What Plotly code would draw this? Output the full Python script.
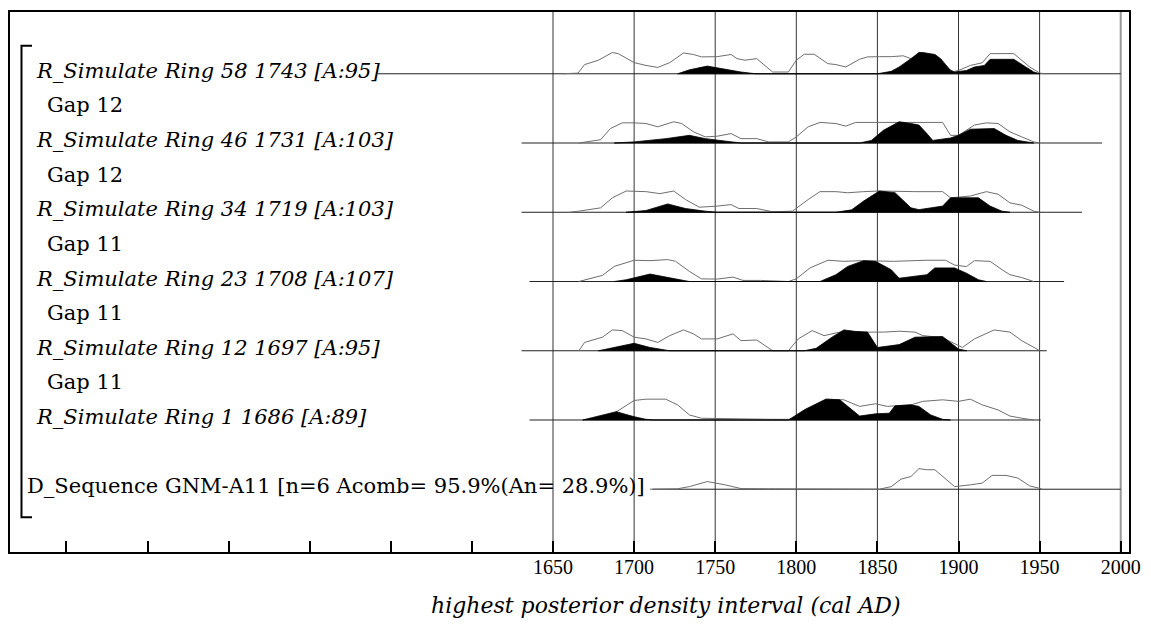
import plotly.graph_objects as go

# ---------------- data (years AD, relative probability 0..1) ----------------
row_labels = [
    "R_Simulate Ring 58 1743 [A:95]",
    "R_Simulate Ring 46 1731 [A:103]",
    "R_Simulate Ring 34 1719 [A:103]",
    "R_Simulate Ring 23 1708 [A:107]",
    "R_Simulate Ring 12 1697 [A:95]",
    "R_Simulate Ring 1 1686 [A:89]",
]
gap_labels = ["Gap 12", "Gap 12", "Gap 11", "Gap 11", "Gap 11"]
sequence_label = "D_Sequence GNM-A11 [n=6 Acomb= 95.9%(An= 28.9%)]"
axis_title = "highest posterior density interval (cal AD)"

tick_years = [1350, 1400, 1450, 1500, 1550, 1600, 1650, 1700, 1750, 1800, 1850, 1900, 1950, 2000]
tick_text = ["", "", "", "", "", "", "1650", "1700", "1750", "1800", "1850", "1900", "1950", "2000"]
grid_years = [1650, 1700, 1750, 1800, 1850, 1900, 1950, 2000]

# baseline extents per row (start year, end year); last is D_Sequence
baseline_start = [1542, 1630.6, 1630.6, 1635.5, 1630.6, 1635.5, 1711.3]
baseline_end = [2000, 1988.5, 1976.2, 1965.1, 1954.4, 1950.7, 2000]

# Ring 58
ring58_prior_yr = [1656, 1665.4, 1669.5, 1678, 1686.6, 1690.2, 1700, 1707.3, 1714.6, 1722, 1730.5, 1736.6, 1741.5,
                   1751.2, 1759.8, 1763.4, 1768.3, 1775.6, 1785.4, 1795.1, 1800, 1804.9, 1811, 1819.5, 1824.4, 1830.5,
                   1839, 1843.9, 1851.2, 1858.5, 1865.9, 1870.7, 1876, 1886, 1892, 1897, 1900, 1907.3, 1914.6, 1919.5,
                   1922, 1934.1, 1943.9, 1950.2, 1953.7]
ring58_prior_h = [0, 0.03, 0.42, 0.62, 0.97, 0.92, 0.51, 0.38, 0.29, 0.51, 0.95, 0.88, 0.77, 0.78, 0.88, 0.69, 0.62,
                  0.69, 0.08, 0.08, 0.62, 0.89, 0.89, 0.46, 0.42, 0.31, 0.66, 0.77, 0.78, 0.78, 0.82, 0.69, 0.9, 0.85,
                  0.3, 0.1, 0.15, 0.38, 0.5, 0.92, 0.92, 0.92, 0.31, 0.03, 0]
ring58_post_yr = [1726.8, 1734.1, 1745.1, 1756.1, 1765.9, 1775, 1850, 1858.5, 1863.4, 1870.7, 1875.6, 1878, 1885.4,
                  1889, 1895.1, 1897.6, 1904.9, 1909.8, 1915.9, 1919.5, 1934.1, 1941.5, 1946.4, 1950.2]
ring58_post_h = [0, 0.18, 0.35, 0.2, 0.08, 0, 0, 0.11, 0.31, 0.69, 0.97, 0.97, 0.88, 0.69, 0.15, 0.08, 0.15, 0.31,
                 0.38, 0.66, 0.66, 0.31, 0.08, 0]

# Ring 46
ring46_prior_yr = [1665.9, 1679.3, 1685.4, 1692.7, 1700, 1707.3, 1714.6, 1724.4, 1729.3, 1736.6, 1743.9, 1751.2,
                   1759.8, 1765.9, 1775.6, 1782.9, 1795.1, 1800, 1807.3, 1814.6, 1824.4, 1830.5, 1836.6, 1848.8, 1870,
                   1890.2, 1895.1, 1900, 1909.8, 1917.2, 1924.4, 1931.7, 1939, 1946.4, 1950.2]
ring46_prior_h = [0, 0.15, 0.66, 0.92, 0.92, 0.89, 0.74, 0.97, 0.89, 0.51, 0.28, 0.31, 0.43, 0.2, 0.2, 0.05, 0.05,
                  0.28, 0.74, 0.94, 0.89, 0.77, 0.94, 0.94, 0.94, 0.94, 0.35, 0.35, 0.82, 0.92, 0.89, 0.51, 0.28,
                  0.05, 0]
ring46_post_yr = [1687.8, 1700, 1719.5, 1734.1, 1743.9, 1756, 1765.9, 1839, 1846.3, 1853.7, 1863.4, 1870.7, 1875.6,
                  1880.5, 1884.1, 1895.1, 1900, 1907.3, 1922, 1929.3, 1936.6, 1946.4]
ring46_post_h = [0, 0.05, 0.2, 0.35, 0.2, 0.08, 0, 0, 0.12, 0.58, 0.97, 0.89, 0.82, 0.43, 0.12, 0.23, 0.35, 0.63,
                 0.66, 0.35, 0.12, 0]

# Ring 34
ring34_prior_yr = [1660, 1665.9, 1679.3, 1686.6, 1695.1, 1707.3, 1715.9, 1724.4, 1731.7, 1740.2, 1751.2, 1759.8,
                   1764.6, 1775.6, 1785.4, 1797.6, 1807.3, 1814.6, 1824.4, 1831.7, 1841.5, 1851.2, 1873.2, 1890.2,
                   1895.1, 1907.3, 1917.2, 1924.4, 1931.7, 1939, 1946.4, 1950.2]
ring34_prior_h = [0, 0.05, 0.2, 0.66, 0.97, 0.94, 0.85, 0.97, 0.58, 0.23, 0.28, 0.35, 0.17, 0.17, 0.02, 0.05, 0.58,
                  0.94, 0.94, 0.89, 0.94, 0.97, 0.94, 0.94, 0.66, 0.74, 0.94, 0.82, 0.43, 0.32, 0.05, 0]
ring34_post_yr = [1695, 1707.3, 1720.7, 1731.7, 1743.9, 1751.2, 1824.4, 1834.1, 1841.5, 1851.2, 1860.9, 1870.7,
                  1875.6, 1890.2, 1895.1, 1904.9, 1912.3, 1919.5, 1926.8, 1931.7]
ring34_post_h = [0, 0.08, 0.38, 0.17, 0.05, 0, 0, 0.11, 0.51, 0.97, 0.89, 0.2, 0.12, 0.28, 0.66, 0.66, 0.66, 0.28,
                 0.05, 0]

# Ring 23
ring23_prior_yr = [1665.9, 1680.5, 1687.8, 1700, 1709.8, 1720.7, 1725.6, 1734.1, 1741.5, 1751.2, 1761, 1767.1, 1778,
                   1795.1, 1800, 1808.5, 1819.5, 1829.3, 1840, 1860, 1880, 1892, 1897.6, 1904.9, 1909.8, 1919.5,
                   1926.8, 1931.7, 1939, 1946.4]
ring23_prior_h = [0, 0.28, 0.69, 0.97, 0.95, 1.0, 0.92, 0.46, 0.12, 0.11, 0.2, 0.05, 0.05, 0, 0.12, 0.62, 0.97, 0.92,
                  0.95, 0.92, 0.97, 0.97, 0.75, 0.68, 0.95, 0.92, 0.54, 0.31, 0.18, 0]
ring23_post_yr = [1687.8, 1695.1, 1709.8, 1724.4, 1734, 1814.6, 1824.4, 1831.7, 1841.5, 1848.8, 1858.5, 1863.4,
                  1880.5, 1885.4, 1897.6, 1904.9, 1912.3, 1917.2]
ring23_post_h = [0, 0.08, 0.34, 0.15, 0, 0, 0.31, 0.69, 0.95, 0.92, 0.54, 0.15, 0.31, 0.62, 0.62, 0.38, 0.08, 0]

# Ring 12
ring12_prior_yr = [1665.9, 1669.5, 1680.5, 1686.6, 1692.7, 1700, 1707.3, 1714.6, 1722, 1730.5, 1736.6, 1741.5,
                   1751.2, 1761, 1765.9, 1775.6, 1785.4, 1795.1, 1801.2, 1809.8, 1817.1, 1830, 1841.5, 1853.7, 1863.4,
                   1873.2, 1878, 1890, 1902.4, 1909.8, 1922, 1931.7, 1939, 1946.4, 1950.2]
ring12_prior_h = [0, 0.38, 0.62, 0.95, 0.92, 0.62, 0.54, 0.38, 0.69, 0.95, 0.77, 0.54, 0.54, 0.77, 0.46, 0.49, 0, 0,
                  0.54, 0.92, 0.69, 0.9, 0.85, 0.85, 0.89, 0.85, 0.69, 0.6, 0.15, 0.54, 0.95, 0.85, 0.46, 0.15, 0]
ring12_post_yr = [1678, 1685.4, 1700, 1709.8, 1722, 1804.9, 1812.2, 1822, 1829.3, 1836.6, 1843.9, 1850, 1863.4,
                  1873.2, 1890.2, 1900, 1905]
ring12_post_h = [0, 0.12, 0.34, 0.15, 0, 0, 0.11, 0.62, 0.95, 0.88, 0.85, 0.15, 0.28, 0.62, 0.65, 0.08, 0]

# Ring 1
ring1_prior_yr = [1668.3, 1678, 1687.8, 1700, 1707.3, 1719.5, 1726.8, 1734.1, 1741.5, 1751.2, 1765.9, 1785.4, 1797.6,
                  1804.9, 1818.3, 1829.3, 1839, 1848.8, 1856.1, 1870.7, 1878, 1890.2, 1900, 1907.3, 1914.6, 1924.4,
                  1931.7, 1939, 1946.4]
ring1_prior_h = [0, 0.1, 0.31, 0.89, 0.95, 0.95, 0.69, 0.23, 0.08, 0.08, 0.05, 0.03, 0.03, 0.46, 0.95, 0.92, 0.62,
                 0.74, 0.62, 0.69, 0.85, 0.92, 0.85, 0.95, 0.69, 0.46, 0.18, 0.08, 0]
ring1_post_yr = [1668.3, 1678, 1689, 1700, 1707.3, 1712, 1795.1, 1804.9, 1818.3, 1826.8, 1839, 1848.8, 1857.3,
                 1860.9, 1870.7, 1875.6, 1882.9, 1890.2, 1895]
ring1_post_h = [0, 0.18, 0.38, 0.15, 0.03, 0, 0, 0.46, 0.95, 0.92, 0.18, 0.28, 0.31, 0.65, 0.69, 0.62, 0.23, 0.03, 0]

# D_Sequence (unmodelled outline only)
sequence_yr = [1709.8, 1726.8, 1734.1, 1745.1, 1756.1, 1765.9, 1782.9, 1851.2, 1858.5, 1864.6, 1870.7, 1875.6,
               1880.5, 1885.4, 1892.7, 1897.6, 1907.3, 1914.6, 1920.7, 1929.3, 1936.6, 1943.9, 1951.2]
sequence_h = [0, 0.02, 0.12, 0.35, 0.2, 0.03, 0.02, 0, 0.12, 0.46, 0.58, 0.94, 0.89, 0.89, 0.43, 0.12, 0.2, 0.28,
              0.63, 0.63, 0.51, 0.15, 0.02]

priors = [(ring58_prior_yr, ring58_prior_h), (ring46_prior_yr, ring46_prior_h), (ring34_prior_yr, ring34_prior_h),
          (ring23_prior_yr, ring23_prior_h), (ring12_prior_yr, ring12_prior_h), (ring1_prior_yr, ring1_prior_h)]
posts = [(ring58_post_yr, ring58_post_h), (ring46_post_yr, ring46_post_h), (ring34_post_yr, ring34_post_h),
         (ring23_post_yr, ring23_post_h), (ring12_post_yr, ring12_post_h), (ring1_post_yr, ring1_post_h)]

# ---------------- layout constants ----------------
W, H = 1151, 632
L, R, T, B = 10, 21, 10, 80
PX_PER_YEAR = 1.6234
X0 = 1650 - (553.5 - L) / PX_PER_YEAR
X1 = 1650 + (W - R - 553.5) / PX_PER_YEAR
ROW_PX = 69.5
ROW0_PX = 72
Y_TOP = (ROW0_PX - T) / ROW_PX
Y_BOT = -(H - B - ROW0_PX) / ROW_PX
SCALE = 22 / ROW_PX  # peak height in row units

SERIF = "DejaVu Serif, Liberation Serif, serif"
TICKFONT = "Liberation Serif, DejaVu Serif, serif"


def px_x(px):
    return (px - L) / (W - L - R)


def px_y(py):
    return (H - B - py) / (H - B - T)


fig = go.Figure()

# baselines
for r in range(7):
    fig.add_trace(go.Scatter(x=[baseline_start[r], baseline_end[r]], y=[-r, -r], mode="lines",
                             line=dict(color="#222", width=1), hoverinfo="skip"))

# prior outlines then posterior fills
for r, (yr, h) in enumerate(priors):
    fig.add_trace(go.Scatter(x=yr, y=[-r + v * SCALE for v in h], mode="lines",
                             line=dict(color="#6e6e6e", width=1), hoverinfo="skip"))
    pyr, ph = posts[r]
    fig.add_trace(go.Scatter(x=list(pyr) + [pyr[-1], pyr[0]], y=[-r + v * SCALE for v in ph] + [-r, -r],
                             mode="lines", fill="toself", fillcolor="black",
                             line=dict(color="black", width=0.8), hoverinfo="skip"))

fig.add_trace(go.Scatter(x=sequence_yr, y=[-6 + v * SCALE for v in sequence_h], mode="lines",
                         line=dict(color="#6e6e6e", width=1), hoverinfo="skip"))

shapes = []
for g in grid_years:
    shapes.append(dict(type="line", xref="x", yref="paper", x0=g, x1=g, y0=0, y1=1, layer="below",
                       line=dict(color="#999" if g == 2000 else "#333", width=2 if g == 2000 else 1)))
# bracket
bx0, bx1 = px_x(21.5), px_x(32)
shapes.append(dict(type="path", xref="paper", yref="paper",
                   path=f"M {bx1},{px_y(44)} L {bx0},{px_y(44)} L {bx0},{px_y(517)} L {bx1},{px_y(517)}",
                   line=dict(color="black", width=2)))

annotations = []
for r, lab in enumerate(row_labels):
    annotations.append(dict(text=f"<i>{lab}</i>", xref="paper", yref="y", x=px_x(34), y=-r, yshift=3,
                            xanchor="left", yanchor="middle", showarrow=False,
                            font=dict(family=SERIF, size=21, color="black")))
for i, lab in enumerate(gap_labels):
    annotations.append(dict(text=lab, xref="paper", yref="y", x=px_x(45), y=-(i + 0.5), yshift=3,
                            xanchor="left", yanchor="middle", showarrow=False,
                            font=dict(family=SERIF, size=21, color="black")))
annotations.append(dict(text=sequence_label, xref="paper", yref="y", x=px_x(25), y=-6, yshift=3,
                        xanchor="left", yanchor="middle", showarrow=False,
                        font=dict(family=SERIF, size=21, color="black")))
annotations.append(dict(text=f"<i>{axis_title}</i>", xref="paper", yref="paper", x=px_x(667), y=px_y(606),
                        xanchor="center", yanchor="middle", showarrow=False,
                        font=dict(family=SERIF, size=22, color="black")))

fig.update_layout(
    width=W, height=H, margin=dict(l=L, r=R, t=T, b=B, pad=0),
    paper_bgcolor="white", plot_bgcolor="white", showlegend=False,
    shapes=shapes, annotations=annotations,
    xaxis=dict(range=[X0, X1], showgrid=False, zeroline=False, showline=True, mirror=True,
               linecolor="black", linewidth=2, ticks="inside", ticklen=11, tickwidth=1.5, tickcolor="black",
               tickvals=tick_years, ticktext=tick_text, ticklabelstandoff=-4,
               tickfont=dict(family=TICKFONT, size=20, color="black"), fixedrange=True),
    yaxis=dict(range=[Y_BOT, Y_TOP], showgrid=False, zeroline=False, showline=True, mirror=True,
               linecolor="black", linewidth=2, showticklabels=False, ticks="", fixedrange=True),
)

fig.write_html("out.html", config={"displayModeBar": False},
               post_script="document.body.style.margin='0';document.body.style.overflow='hidden';")
